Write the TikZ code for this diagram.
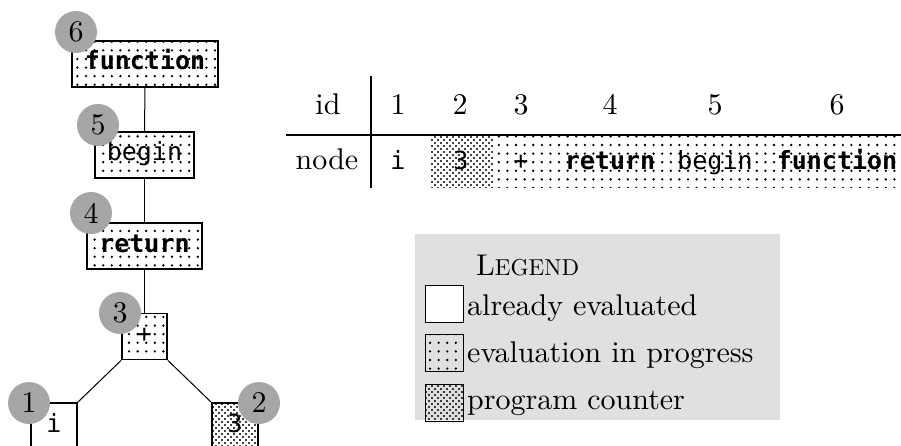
\documentclass[tikz,border=0pt]{standalone}
\usepackage{fontspec}
\setmainfont{lmroman10-regular.otf}[BoldFont=lmroman10-bold.otf, ItalicFont=lmroman10-italic.otf]
\newfontfamily\codefont{DejaVu Sans Mono}
\usetikzlibrary{patterns.meta}
\tikzset{
  maintext/.style={font=\fontsize{30}{34}\selectfont},
  code/.style={font=\codefont\fontsize{25}{29}\selectfont},
  codeb/.style={font=\codefont\bfseries\fontsize{25}{29}\selectfont},
  sparse/.style={pattern={Dots[distance=8.6pt,radius=1.3pt]}},
  dense/.style={pattern={Dots[distance=6pt,radius=1.1pt]},
     preaction={pattern={Dots[distance=6pt,radius=1.1pt,xshift=3pt,yshift=3pt]}}},
  treebox/.style={draw, line width=1.6pt, inner sep=0pt, minimum height=46pt,
     text height=17pt, text depth=5pt},
  badge/.style={circle, fill=black!35, minimum size=42pt, inner sep=0pt, maintext},
  edge/.style={line width=1pt},
  rule/.style={line width=1.6pt},
  legbox/.style={draw, line width=1pt, minimum width=38pt, minimum height=37pt, inner sep=0pt},
}
\begin{document}
\begin{tikzpicture}[x=1pt,y=-1pt]
\useasboundingbox (0,0) rectangle (901,446);

% tree
\node[treebox, sparse, codeb, minimum width=146pt] (fn) at (145,64) {function};
\node[treebox, sparse, code, minimum width=99pt] (bg) at (144.5,155) {begin};
\node[treebox, sparse, codeb, minimum width=115pt] (ret) at (144.5,246) {return};
\node[treebox, sparse, code, minimum width=45pt] (plus) at (144.5,336.5) {+};
\node[treebox, fill=white, code, minimum width=46pt] (ivar) at (54,426) {i};
\node[treebox, dense, code, minimum width=46pt] (three) at (235,426) {3};

\draw[edge] (fn.south) -- (bg.north);
\draw[edge] (bg.south) -- (ret.north);
\draw[edge] (ret.south) -- (plus.north);
\draw[edge] (plus.south west) -- (ivar.north east);
\draw[edge] (plus.south east) -- (three.north west);

\node[badge] (b6) at (76,32) {6};
\node[badge] (b5) at (98,125) {5};
\node[badge] (b4) at (91,213) {4};
\node[badge] (b3) at (120,313) {3};
\node[badge] (b1) at (29,403) {1};
\node[badge] (b2) at (259,403) {2};

% table
\path[dense] (431,136) rectangle (493,188);
\path[sparse] (493,136) rectangle (901,188);
\coordinate (hl) at (286,135);
\coordinate (hr) at (901,135);
\coordinate (vt) at (371,76);
\coordinate (vb) at (371,188);
\draw[rule] (hl) -- (hr);
\draw[rule] (vt) -- (vb);

\node[maintext, anchor=base] (hid) at (328,115) {id};
\node[maintext, anchor=base] (h1) at (398,115) {1};
\node[maintext, anchor=base] (h2) at (460,115) {2};
\node[maintext, anchor=base] (h3) at (521,115) {3};
\node[maintext, anchor=base] (h4) at (610,115) {4};
\node[maintext, anchor=base] (h5) at (715,115) {5};
\node[maintext, anchor=base] (h6) at (837,115) {6};

\node[maintext, anchor=base] (hnode) at (327,170) {node};
\node[code, anchor=base] (c1) at (398,170) {i};
\node[code, anchor=base] (c2) at (461,170) {3};
\node[code, anchor=base] (c3) at (521,170) {+};
\node[codeb, anchor=base] (c4) at (610,170) {return};
\node[code, anchor=base] (c5) at (715,170) {begin};
\node[codeb, anchor=base] (c6) at (837,170) {function};

% legend
\fill[black!12] (415,234) rectangle (780,420);
\node[maintext, anchor=base west, inner sep=0pt] (lt) at (476,275) {L{\fontsize{23}{27}\selectfont EGEND}};
\node[legbox, fill=white] (l1) at (444,303.5) {};
\node[legbox, sparse] (l2) at (444,353) {};
\node[legbox, dense] (l3) at (444,402.5) {};
\node[maintext, anchor=base west, inner sep=0pt] (t1) at (467,315) {already evaluated};
\node[maintext, anchor=base west, inner sep=0pt] (t2) at (467,362) {evaluation in progress};
\node[maintext, anchor=base west, inner sep=0pt] (t3) at (467,409) {program counter};
\end{tikzpicture}
\end{document}
